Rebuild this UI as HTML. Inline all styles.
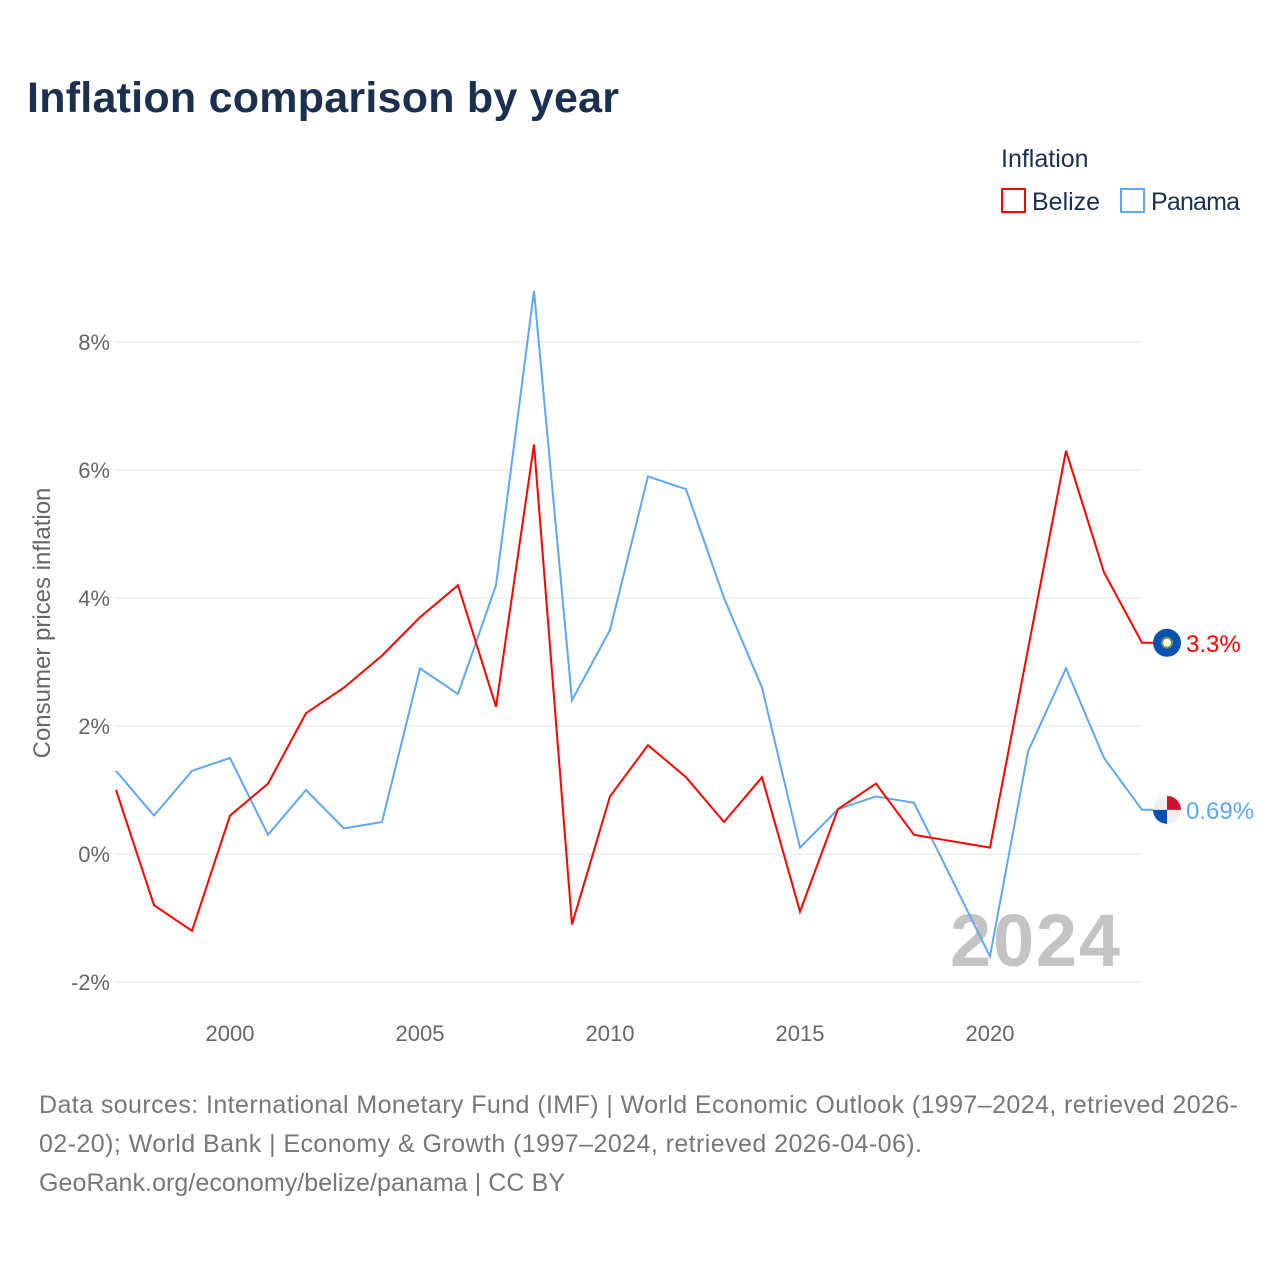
<!DOCTYPE html>
<html><head><meta charset="utf-8"><style>
body{margin:0;background:#fff;font-family:"Liberation Sans",sans-serif;}
svg text{font-family:"Liberation Sans",sans-serif;}
</style></head><body>
<svg width="1280" height="1280" xmlns="http://www.w3.org/2000/svg" id="chart">
<text x="27" y="112" font-size="43" font-weight="bold" fill="#1b3050" textLength="592">Inflation comparison by year</text>
<g>
<text x="1001" y="167" font-size="25" fill="#1b3050">Inflation</text>
<g><rect x="1002" y="189" width="23" height="23" fill="none" stroke="#ff0000" stroke-width="2"/><text x="1032" y="210" font-size="25" fill="#1b3050">Belize</text></g>
<g><rect x="1121" y="189" width="23" height="23" fill="none" stroke="#5fa8ee" stroke-width="2"/><text x="1151" y="210" font-size="25" fill="#1b3050" textLength="89">Panama</text></g>
</g>
<g id="grid"></g>
<g id="yticks"></g>
<g id="xticks"></g>
<text transform="translate(50,623) rotate(-90)" text-anchor="middle" font-size="24" fill="#666">Consumer prices inflation</text>
<text x="1120" y="966" text-anchor="end" font-size="74" font-weight="bold" fill="#c4c4c4" textLength="170">2024</text>
<g id="series"></g>
<g font-size="25" fill="#777">
<text x="39" y="1113" textLength="1199">Data sources: International Monetary Fund (IMF) | World Economic Outlook (1997–2024, retrieved 2026-</text>
<text x="39" y="1152" textLength="883">02-20); World Bank | Economy &amp; Growth (1997–2024, retrieved 2026-04-06).</text>
<text x="39" y="1191" textLength="526">GeoRank.org/economy/belize/panama | CC BY</text>
</g>
</svg>
<script>
const years=[1997,1998,1999,2000,2001,2002,2003,2004,2005,2006,2007,2008,2009,2010,2011,2012,2013,2014,2015,2016,2017,2018,2019,2020,2021,2022,2023,2024];
const belize=[1.0,-0.8,-1.2,0.6,1.1,2.2,2.6,3.1,3.7,4.2,2.3,6.4,-1.1,0.9,1.7,1.2,0.5,1.2,-0.9,0.7,1.1,0.3,0.2,0.1,3.2,6.3,4.4,3.3];
const panama=[1.3,0.6,1.3,1.5,0.3,1.0,0.4,0.5,2.9,2.5,4.2,8.8,2.4,3.5,5.9,5.7,4.0,2.6,0.1,0.7,0.9,0.8,-0.4,-1.6,1.6,2.9,1.5,0.69];
const yTicks=[-2,0,2,4,6,8];
const xTicks=[2000,2005,2010,2015,2020];
const belizeLabel="3.3%", panamaLabel="0.69%";
const NS="http://www.w3.org/2000/svg";
const x=v=>116+(v-1997)*(1026/27);
const y=v=>854-v*64;
function mk(tag,attrs,parent){const e=document.createElementNS(NS,tag);for(const k in attrs)e.setAttribute(k,attrs[k]);parent.appendChild(e);return e;}
const grid=document.getElementById('grid'),yt=document.getElementById('yticks'),xt=document.getElementById('xticks'),ser=document.getElementById('series');
yTicks.forEach(t=>{
 const l=mk('line',{x1:116,x2:1142,y1:y(t),y2:y(t),stroke:'#e6e6e6','stroke-width':1},grid);
 
 
 const tx=mk('text',{x:110,y:y(t)+8,'text-anchor':'end','font-size':22,fill:'#666'},yt);
 tx.textContent=t+'%';
 
 
});
xTicks.forEach(t=>{
 const tx=mk('text',{x:x(t),y:1041,'text-anchor':'middle','font-size':22,fill:'#666'},xt);
 tx.textContent=t;
 
 
});
function line(vals,color,name,label){
 let d=vals.map((v,i)=>(i?'L':'M')+x(years[i]).toFixed(1)+','+y(v).toFixed(1)).join('');
 const last=y(vals[vals.length-1]);
 d+='L1155,'+last.toFixed(1);
 const p=mk('path',{d:d,fill:'none',stroke:color,'stroke-width':2},ser);
 
 
 const c=mk('circle',{cx:1167,cy:last,r:14,fill:name==='belize'?'#0a50b4':'#f0f0f0'},ser);
 
 
 if(name==='belize'){
  mk('circle',{cx:1167,cy:last,r:5,fill:'#fff',stroke:'#6a9e3a','stroke-width':2},ser);
 }else{
  mk('path',{d:`M1167,${last-14}A14,14 0 0 1 1181,${last}L1167,${last}Z`,fill:'#d21034'},ser);
  mk('path',{d:`M1153,${last}A14,14 0 0 0 1167,${last+14}L1167,${last}Z`,fill:'#0a50b4'},ser);
 }
 const t=mk('text',{x:1186,y:last+9,'font-size':24,fill:color},ser);
 t.textContent=label;
 
 
}
line(panama,'#5fa8ee','panama',panamaLabel);
line(belize,'#ff0000','belize',belizeLabel);
</script>
</body></html>
